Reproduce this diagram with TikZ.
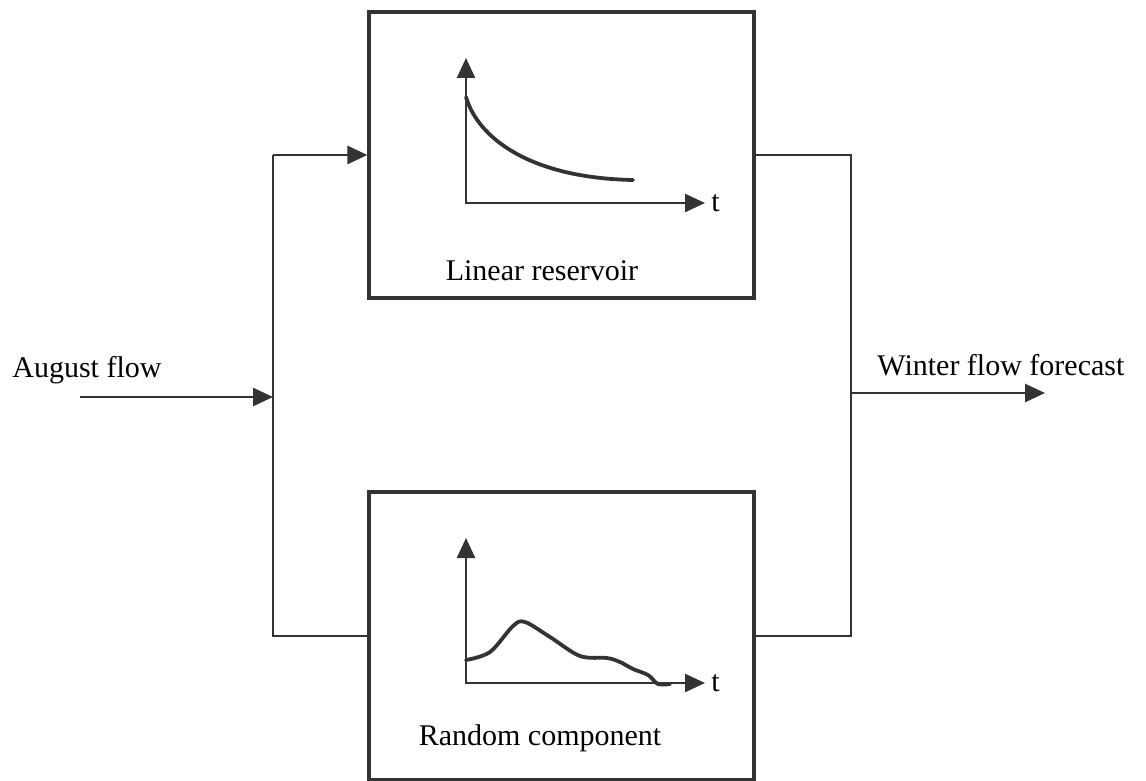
\documentclass[tikz,border=0pt]{standalone}
\usepackage{fontspec}
\setmainfont{Liberation Serif}
\usetikzlibrary{arrows.meta,positioning}
\colorlet{line gray}{black!80}
\tikzset{block/.style={draw=line gray, line width=1.6pt, minimum width=192.5pt,
        minimum height=143pt, inner sep=0pt},
    wire/.style={draw=line gray, line width=1.4pt},
    flow/.style={wire, -{Triangle[length=10pt,width=9pt]}},
    axes/.style={draw=line gray, line width=1.3pt,
        {Triangle[length=10pt,width=9pt]}-{Triangle[length=10pt,width=9pt]}},
    graph/.style={draw=line gray, line width=1.9pt, line join=round, line cap=round},
    label/.style={font=\fontsize{15}{18}\selectfont, inner sep=0pt}}

\begin{document}
\begin{tikzpicture}[x=0.5pt, y=-0.5pt]
    \useasboundingbox (0,0) rectangle (1146,781);
    % the two boxes
    \node[block] (res) at (561.5,155) {};
    \node[block, minimum height=144pt] (rnd) at (561.5,636) {};
    \node[label, anchor=base] (reslabel) at (542,280) {Linear reservoir};
    \node[label, anchor=base] (rndlabel) at (540,745) {Random component};
    % little graphs
    \draw[axes] (466,58) -- (466,203) -- (705,203);
    \node[label, anchor=west] (rest) at (711,203) {t};
    \draw[graph] (466,97) .. controls (478,138) and (530,178) .. (633,180);
    \draw[axes] (466,538) -- (466,683) -- (705,683);
    \node[label, anchor=west] (rndt) at (711,683) {t};
    \draw[graph] plot[smooth, tension=0.55] coordinates {(466,660) (490,652)
        (513,626) (525,622) (550,637) (580,656) (607,658) (620,662) (633,669)
        (648,675) (658,684) (670,684)};
    % input side
    \coordinate (src) at (80,397);
    \coordinate (lbus) at (273,397);
    \node[label, anchor=base west] (inlabel) at (12,377) {August flow};
    \draw[flow] (src) -- (lbus);
    \draw[wire] (lbus |- res) -- (lbus |- rnd) -- (rnd.west);
    \draw[flow] (lbus |- res) -- (res.west);
    % output side
    \coordinate (rbus) at (851,393);
    \coordinate (dst) at (1045,393);
    \node[label, anchor=base west] (outlabel) at (877,375) {Winter flow forecast};
    \draw[wire] (res.east) -- (rbus |- res) -- (rbus |- rnd) -- (rnd.east);
    \draw[flow] (rbus) -- (dst);
\end{tikzpicture}
\end{document}
